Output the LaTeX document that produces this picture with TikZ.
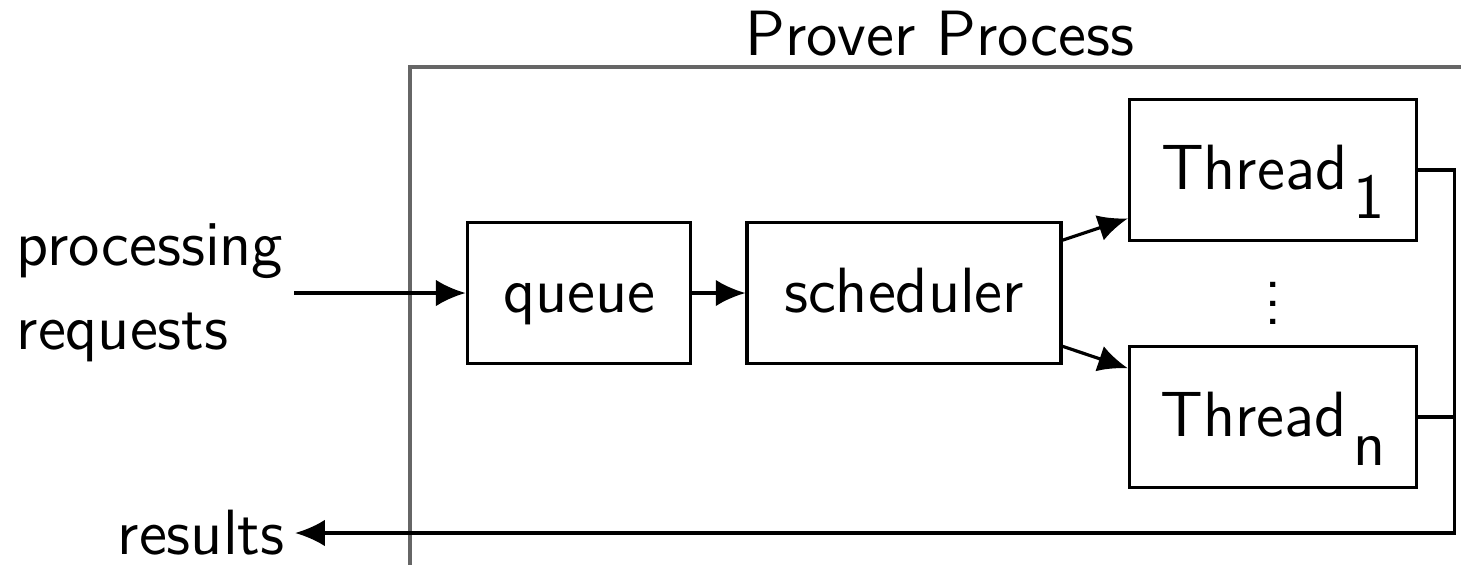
\documentclass[tikz,border=0pt]{standalone}
\usepackage{tikz}
\usetikzlibrary{positioning, arrows.meta}
\renewcommand{\familydefault}{\sfdefault}
\newcommand{\thrsub}[1]{\smash{\raisebox{-.46em}{\kern.1em#1}}}

\begin{document}
\begin{tikzpicture}[line width=.7pt,>={Latex[length=6.5pt,width=5.8pt]},
  every node/.style={font=\fontsize{14}{18.5}\selectfont, inner sep=2pt},
  box/.style={draw, minimum height=1.085cm, text height=11.2pt, text depth=2.8pt}]
\clip (0,0) rectangle (11.238,-4.346);
% process frame
\draw[black!60](11.5,-.515)--(3.154,-.515)--(3.154,-4.6);
\node(title) at (7.23,-.26){Prover Process};
\node[box, minimum width=1.72cm](queue) at (4.454,-2.254){queue};
\node[box, minimum width=2.415cm](sched) at (6.954,-2.254){scheduler};
\node[box, minimum width=2.208cm](T1) at (9.792,-1.308){Thread\thrsub{1}};
\node[box, minimum width=2.208cm](Tn) at (9.792,-3.208){Thread\thrsub{n}};
\node[inner sep=0pt](dots) at (9.792,-2.23){$\vdots$};
\node[anchor=west, align=left](req) at (.046,-2.254){processing\\requests};
\node[anchor=east](res) at (2.27,-4.1){results};
\coordinate(back) at (11.19,-4.1);
\draw[->](req)--(queue);
\draw[->](queue)--(sched);
\draw[->](sched)--(T1);
\draw[->](sched)--(Tn);
\draw[->](T1.east)-|(back)--(res);
\draw(Tn.east)--(Tn.east-|back);
\end{tikzpicture}
\end{document}
